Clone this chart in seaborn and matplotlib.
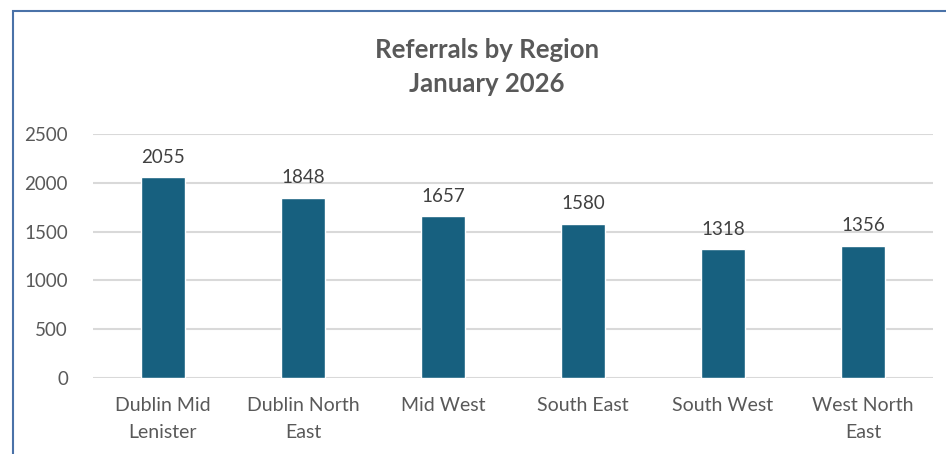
import matplotlib
matplotlib.use("Agg")
import matplotlib.pyplot as plt
import seaborn as sns
import pandas as pd
from matplotlib.patches import Rectangle

categories = ["Dublin Mid\nLenister", "Dublin North\nEast", "Mid West", "South East", "South West", "West North\nEast"]
referrals = [2055, 1848, 1657, 1580, 1318, 1356]
yticks = [0, 500, 1000, 1500, 2000, 2500]

sns.set_theme(style="white")
plt.rcParams['font.family'] = ['Lato', 'DejaVu Sans']

df = pd.DataFrame({"Region": categories, "Referrals": referrals})

fig = plt.figure(figsize=(9.46, 4.54), dpi=100)
ax = fig.add_axes([93/946, 76/454, 840/946, 244/454])

sns.barplot(data=df, x="Region", y="Referrals", color="#17607F", width=0.31,
            saturation=1, ax=ax, zorder=3)

ax.set_ylim(0, 2500)
ax.set_xlim(-0.5, len(categories) - 0.5)
ax.set_yticks(yticks)
ax.yaxis.grid(True, color="#D9D9D9", linewidth=1.5, zorder=0)
ax.xaxis.grid(False)
for s in ax.spines.values():
    s.set_visible(False)
ax.set_xlabel("")
ax.set_ylabel("")
ax.tick_params(axis="y", length=0, labelsize=13.5, colors="#595959", pad=18)
ax.tick_params(axis="x", length=0, labelsize=14, colors="#595959", pad=14)
for lbl in ax.get_xticklabels():
    lbl.set_linespacing(1.65)

for i, v in enumerate(referrals):
    ax.annotate(f"{v}", (i, v), xytext=(0, 14.4), textcoords="offset points",
                ha="center", va="center", fontsize=13.5, color="#404040")

fig.text(487/946, 1 - 50/454, "Referrals by Region", ha="center", va="center",
         fontsize=18.5, fontweight="bold", color="#595959")
fig.text(487/946, 1 - 84/454, "January 2026", ha="center", va="center",
         fontsize=18.5, fontweight="bold", color="#595959")

fig.patches.append(Rectangle((13/946, -0.1), 1.2, 1 - 11/454 + 0.1,
                             transform=fig.transFigure, fill=False,
                             edgecolor="#4A72A8", linewidth=1.5))

fig.savefig("out.png", dpi=100)
